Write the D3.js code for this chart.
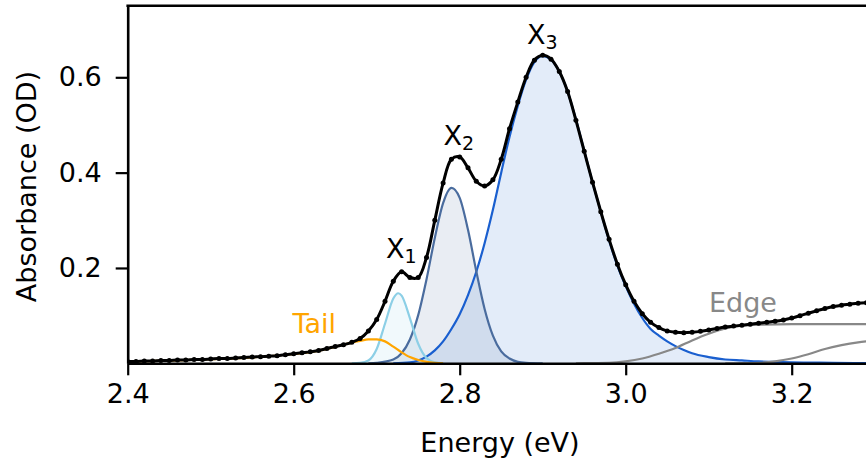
<!DOCTYPE html>
<html><head><meta charset="utf-8">
<script src="https://cdn.jsdelivr.net/npm/d3@7"></script>
<style>
html,body{margin:0;padding:0;background:#fff;}
svg{display:block;}
text{font-family:"DejaVu Sans",sans-serif;}
</style></head>
<body>
<svg id="chart" width="866" height="465"></svg>
<script>
// ---- data ----
const xTicks = [2.4, 2.6, 2.8, 3.0, 3.2];
const yTicks = [0.2, 0.4, 0.6];

const dataE = [2.40,2.41,2.42,2.43,2.44,2.45,2.46,2.47,2.48,2.49,
  2.50,2.51,2.52,2.53,2.54,2.55,2.56,2.57,2.58,2.59,
  2.60,2.61,2.62,2.63,2.64,2.65,2.66,2.67,2.68,2.69,
  2.70,2.71,2.72,2.73,2.74,2.75,2.76,2.77,2.78,2.79,
  2.80,2.81,2.82,2.83,2.84,2.85,2.86,2.87,2.88,2.89,
  2.90,2.91,2.92,2.93,2.94,2.95,2.96,2.97,2.98,2.99,
  3.00,3.01,3.02,3.03,3.04,3.05,3.06,3.07,3.08,3.09,
  3.10,3.11,3.12,3.13,3.14,3.15,3.16,3.17,3.18,3.19,
  3.20,3.21,3.22,3.23,3.24,3.25,3.26,3.27,3.28,3.29];
const dataA = [0.004,0.004,0.005,0.005,0.006,0.006,0.007,0.007,0.008,0.008,
  0.009,0.010,0.010,0.011,0.012,0.013,0.014,0.015,0.016,0.018,
  0.020,0.022,0.024,0.027,0.031,0.035,0.039,0.044,0.052,0.068,
  0.092,0.130,0.172,0.192,0.180,0.180,0.222,0.300,0.378,0.428,
  0.433,0.410,0.382,0.372,0.385,0.428,0.492,0.548,0.600,0.636,
  0.646,0.638,0.612,0.570,0.510,0.445,0.380,0.318,0.260,0.208,
  0.165,0.130,0.104,0.086,0.075,0.068,0.065,0.064,0.065,0.067,
  0.070,0.073,0.076,0.078,0.080,0.082,0.084,0.086,0.088,0.091,
  0.095,0.100,0.105,0.110,0.115,0.119,0.122,0.124,0.126,0.127];

const tailE = [2.40,2.45,2.50,2.55,2.60,2.63,2.65,2.67,2.68,2.69,2.70,2.71,2.72,2.73,2.74,2.75,2.76,2.77,2.78];
const tailA = [0.0035,0.0055,0.0085,0.0125,0.0195,0.0265,0.0345,0.0435,0.047,0.050,0.050,0.046,0.035,0.023,0.013,0.007,0.003,0.001,0];

const x1E = [2.67,2.68,2.69,2.70,2.71,2.72,2.726,2.73,2.74,2.75,2.76,2.77,2.78];
const x1A = [0,0.001,0.006,0.030,0.083,0.136,0.147,0.142,0.095,0.041,0.011,0.002,0];

const x2E = [2.69,2.70,2.72,2.73,2.74,2.75,2.76,2.77,2.78,2.79,2.80,2.81,2.82,2.83,2.84,2.85,2.86,2.87,2.88,2.90];
const x2A = [0,0.001,0.008,0.021,0.050,0.101,0.176,0.263,0.336,0.368,0.347,0.280,0.193,0.114,0.058,0.025,0.010,0.003,0.001,0];

const x3E = [2.72,2.74,2.75,2.76,2.77,2.78,2.79,2.80,2.81,2.82,2.83,2.84,2.85,2.86,2.87,2.88,2.89,2.90,
  2.91,2.92,2.93,2.94,2.95,2.96,2.97,2.98,2.99,3.00,3.01,3.02,3.03,3.04,3.05,3.06,3.07,3.08,
  3.10,3.12,3.14,3.16,3.18,3.20,3.25,3.30];
const x3A = [0,0.002,0.006,0.014,0.027,0.046,0.072,0.103,0.143,0.192,0.252,0.322,0.400,0.475,0.540,0.595,0.632,0.645,
  0.637,0.612,0.570,0.512,0.446,0.380,0.318,0.258,0.205,0.162,0.125,0.095,0.072,0.058,0.046,0.036,0.028,0.021,
  0.013,0.008,0.006,0.004,0.003,0.002,0.001,0];

const edge1E = [2.94,2.96,2.98,3.00,3.02,3.04,3.06,3.08,3.10,3.12,3.14,3.16,3.20,3.30];
const edge1A = [0,0.0005,0.001,0.004,0.010,0.020,0.032,0.048,0.062,0.073,0.079,0.081,0.082,0.082];

const edge2E = [3.12,3.14,3.16,3.18,3.20,3.22,3.24,3.26,3.28,3.30];
const edge2A = [0,0.0003,0.001,0.004,0.010,0.019,0.030,0.038,0.044,0.048];

// ---- drawing ----
const svg = d3.select("#chart");
const xs = d3.scaleLinear().domain([2.4, 3.3]).range([127.7, 874.7]);
const ys = d3.scaleLinear().domain([0, 0.75]).range([363.3, 5.8]);

svg.append("defs").append("clipPath").attr("id","clip")
  .append("rect").attr("x", xs(2.4)).attr("y", ys(0.75))
  .attr("width", xs(3.3)-xs(2.4)).attr("height", ys(0)-ys(0.75));

const plot = svg.append("g").attr("clip-path","url(#clip)");

const toPts = (E, A) => E.map((e,i) => [e, A[i]]);
const line = d3.line().x(d => xs(d[0])).y(d => ys(d[1])).curve(d3.curveMonotoneX);
const area = d3.area().x(d => xs(d[0])).y0(ys(0)).y1(d => ys(d[1])).curve(d3.curveMonotoneX);

const comps = [
  {E: x3E, A: x3A, color: "#1a5fcf", fill: true},
  {E: x2E, A: x2A, color: "#4a6c9e", fill: true},
  {E: x1E, A: x1A, color: "#8ccfe6", fill: true},
  {E: tailE, A: tailA, color: "#ffa500", fill: false},
  {E: edge1E, A: edge1A, color: "#888888", fill: false},
  {E: edge2E, A: edge2A, color: "#888888", fill: false}
];
comps.filter(c => c.fill).forEach(c => {
  plot.append("path").datum(toPts(c.E, c.A)).attr("d", area)
    .attr("fill", c.color).attr("fill-opacity", 0.12).attr("stroke","none");
});
comps.forEach(c => {
  plot.append("path").datum(toPts(c.E, c.A)).attr("d", line)
    .attr("fill","none").attr("stroke", c.color).attr("stroke-width", 2.2);
});

const dpts = toPts(dataE, dataA);
plot.append("path").datum(dpts).attr("d", d3.line().x(d=>xs(d[0])).y(d=>ys(d[1])).curve(d3.curveCatmullRom))
  .attr("fill","none").attr("stroke","#000").attr("stroke-width",3);
plot.selectAll("circle.pt").data(dpts).enter().append("circle")
  .attr("class","pt").attr("cx", d=>xs(d[0])).attr("cy", d=>ys(d[1])).attr("r", 2.5).attr("fill","#000");

// axes
const xAxis = svg.append("g").attr("transform", `translate(0,${ys(0)})`)
  .call(d3.axisBottom(xs).tickValues(xTicks).tickFormat(d3.format(".1f")).tickSize(12).tickSizeOuter(0).tickPadding(9));
const yAxis = svg.append("g").attr("transform", `translate(${xs(2.4)},0)`)
  .call(d3.axisLeft(ys).tickValues(yTicks).tickFormat(d3.format(".1f")).tickSize(12).tickSizeOuter(0).tickPadding(14));
[xAxis, yAxis].forEach(g => {
  g.select(".domain").attr("stroke","#000").attr("stroke-width",2.6);
  g.selectAll(".tick line").attr("stroke","#000").attr("stroke-width",2.2);
  g.selectAll(".tick text").attr("fill","#000").style("font-size","27px").style("font-family","DejaVu Sans");
});
svg.append("line").attr("x1", xs(2.4)-1.3).attr("x2", xs(3.3)).attr("y1", ys(0.75)).attr("y2", ys(0.75))
  .attr("stroke","#000").attr("stroke-width",2.6);
svg.append("line").attr("x1", xs(3.3)).attr("x2", xs(3.3)).attr("y1", ys(0.75)).attr("y2", ys(0))
  .attr("stroke","#000").attr("stroke-width",2.6);

// axis labels
svg.append("text").attr("x", 500).attr("y", 452).attr("text-anchor","middle")
  .style("font-size","27px").attr("fill","#000").text("Energy (eV)");
svg.append("text").attr("transform","translate(36,186.5) rotate(-90)").attr("text-anchor","middle")
  .style("font-size","27px").attr("fill","#000").text("Absorbance (OD)");

// annotations
const peakLabels = [
  {name:"X", sub:"1", x:386, y:258},
  {name:"X", sub:"2", x:443.5, y:145},
  {name:"X", sub:"3", x:527, y:44}
];
peakLabels.forEach(p => {
  const t = svg.append("text").attr("x", p.x).attr("y", p.y).attr("fill","#000").style("font-size","27px");
  t.append("tspan").text(p.name);
  t.append("tspan").attr("dy", 5).style("font-size","19px").text(p.sub);
});
svg.append("text").attr("x", 292.5).attr("y", 333.3).attr("fill","#ffa500").style("font-size","27px").text("Tail");
svg.append("text").attr("x", 709).attr("y", 311.7).attr("fill","#888888").style("font-size","27px").text("Edge");
</script>
</body></html>
